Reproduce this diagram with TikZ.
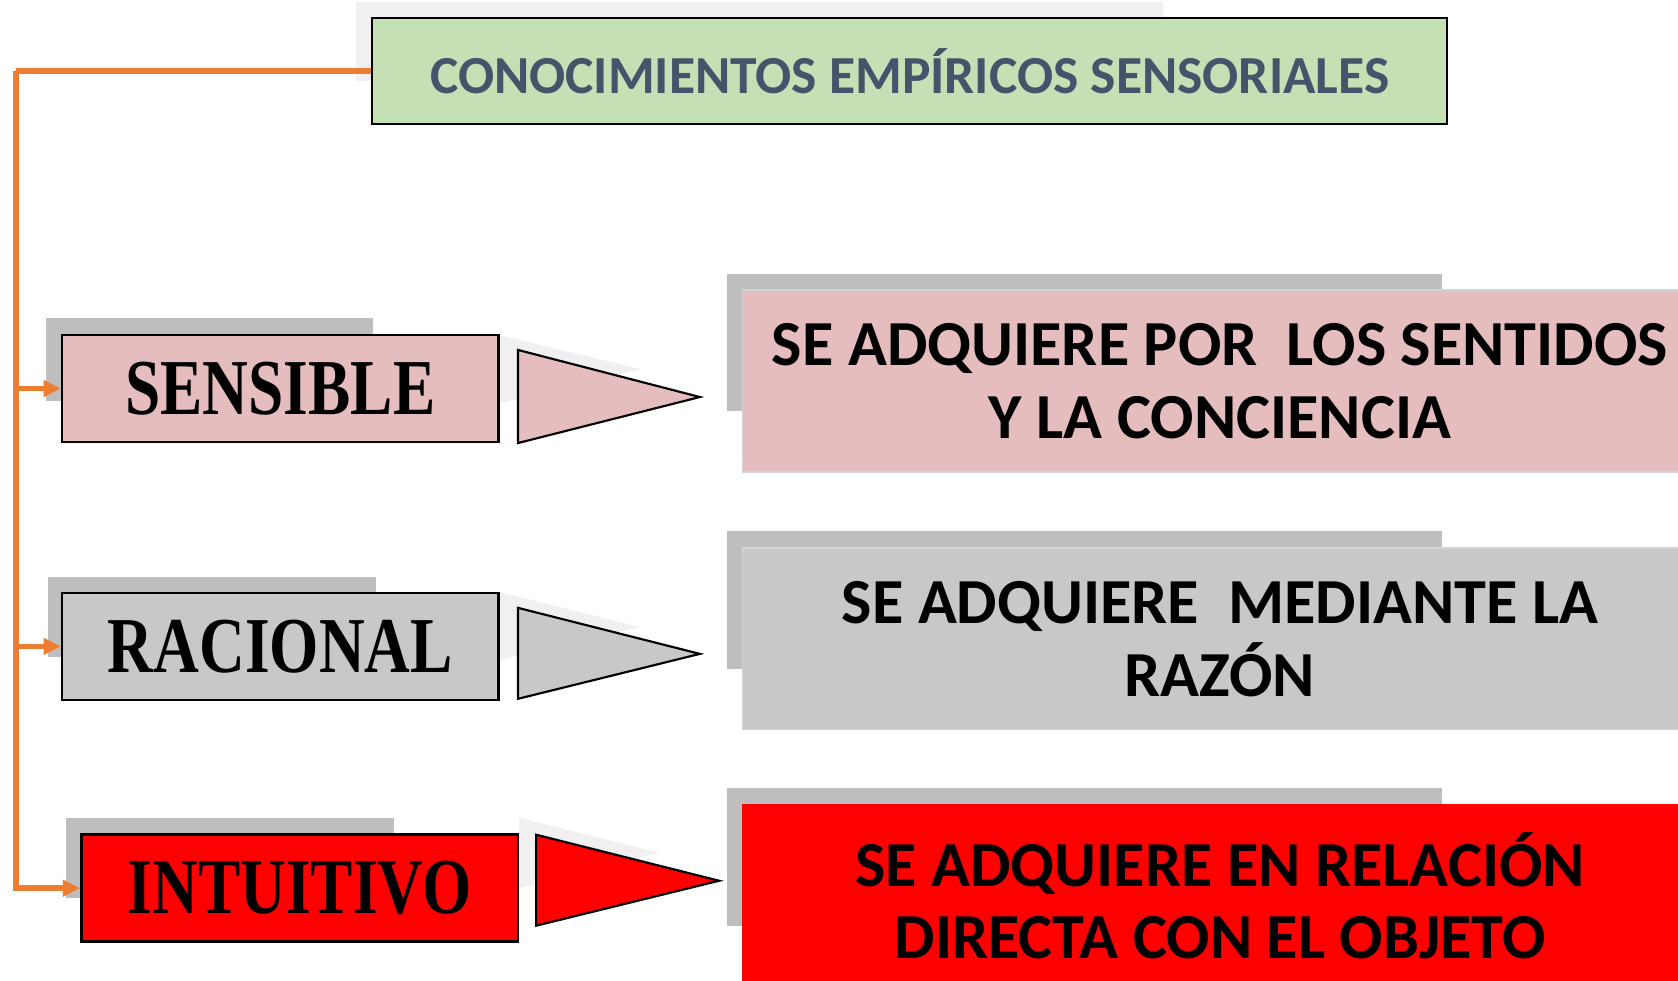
\documentclass[tikz,border=0pt]{standalone}
\usepackage{fontspec}
\setmainfont{Liberation Serif}
\newfontfamily\carlito{Carlito}
\usetikzlibrary{arrows.meta}
\definecolor{orng}{HTML}{ED7D31}
\definecolor{titlegreen}{HTML}{C5E0B4}
\definecolor{titletext}{HTML}{44546A}
\definecolor{pinkfill}{HTML}{E6BDBE}
\definecolor{grayfill}{HTML}{C8C8C8}
\definecolor{shadowgray}{HTML}{BEBEBE}
\definecolor{lightshadow}{HTML}{F0F0F0}
\definecolor{boxline}{HTML}{D4D4D4}
\definecolor{redfill}{HTML}{FF0000}
\begin{document}
\begin{tikzpicture}[x=0.5pt,y=-0.5pt,
  conn/.style={draw=orng, line width=2.6pt, -{Triangle[length=8pt,width=7.5pt]}},
  connline/.style={draw=orng, line width=2.6pt},
  lblbox/.style={draw=black, line width=1.2pt, minimum width=204pt, minimum height=50pt, inner sep=0pt,
    font=\bfseries\fontsize{37}{40}\selectfont},
  descbox/.style={draw=boxline, line width=0.6pt, minimum width=446pt, minimum height=85pt, inner sep=0pt,
    align=center, font=\carlito\bfseries\fontsize{30}{34}\selectfont},
  tri/.style={draw=black, line width=1pt, line join=miter},
  shd/.style={fill=shadowgray},
  lshd/.style={fill=lightshadow}]
\useasboundingbox (0,0) rectangle (1568,916);
\clip (0,0) rectangle (1568,916);
\fill[white] (0,0) rectangle (1568,916);

% title
\fill[lshd] (333,2) rectangle (1087,76);
\node[draw=black, line width=0.9pt, fill=titlegreen, minimum width=502pt, minimum height=49.5pt, inner sep=0pt,
  text=titletext, font=\carlito\bfseries\fontsize{25}{30}\selectfont] (top) at (850,66.5)
  {CONOCIMIENTOS EMPÍRICOS SENSORIALES};

% left label shadows
\fill[shd] (43,297) rectangle (349,375);
\fill[shd] (45,539) rectangle (351,614);
\fill[shd] (62,764) rectangle (368,839);
% triangle light shadows
\fill[lshd] (466,313) -- (598,345) -- (466,377) -- cycle;
\fill[lshd] (466,553) -- (598,586) -- (466,617) -- cycle;
\fill[lshd] (485,764) -- (616,797) -- (485,830) -- cycle;

% right shadows
\fill[shd] (679,256) rectangle (1347,384);
\fill[shd] (679,496) rectangle (1347,625);
\fill[shd] (679,736) rectangle (1347,865);

% left labels
\node[lblbox, fill=pinkfill] (sens) at (262,363) {\scalebox{0.8}[1]{SENSIBLE}};
\node[lblbox, fill=grayfill] (rac) at (262,604) {\scalebox{0.8}[1]{RACIONAL}};
\node[lblbox, fill=redfill] (intu) at (280,830) {\scalebox{0.8}[1]{INTUITIVO}};

% triangles
\filldraw[tri, fill=pinkfill] (484,327) -- (654,371) -- (484,414) -- cycle;
\filldraw[tri, fill=grayfill] (484,568) -- (654,611) -- (484,653) -- cycle;
\filldraw[tri, fill=redfill] (501,780) -- (672,823) -- (501,865) -- cycle;

% right descriptions
\node[descbox, fill=pinkfill] (d1) at (1140,356) {SE ADQUIERE POR~ LOS SENTIDOS\\Y LA CONCIENCIA};
\node[descbox, fill=grayfill] (d2) at (1140,597) {SE ADQUIERE~ MEDIANTE LA\\RAZÓN};
\node[descbox, fill=redfill, draw=redfill] (d3) at (1140,837) {SE ADQUIERE EN RELACIÓN\\DIRECTA CON EL OBJETO};

% connectors
\coordinate (trunk) at (15,66.5);
\draw[connline] (top.west) -- (trunk);
\draw[conn] (trunk) |- (sens.west);
\draw[conn] (trunk) |- (rac.west);
\draw[conn] (trunk) |- (intu.west);
\end{tikzpicture}
\end{document}
